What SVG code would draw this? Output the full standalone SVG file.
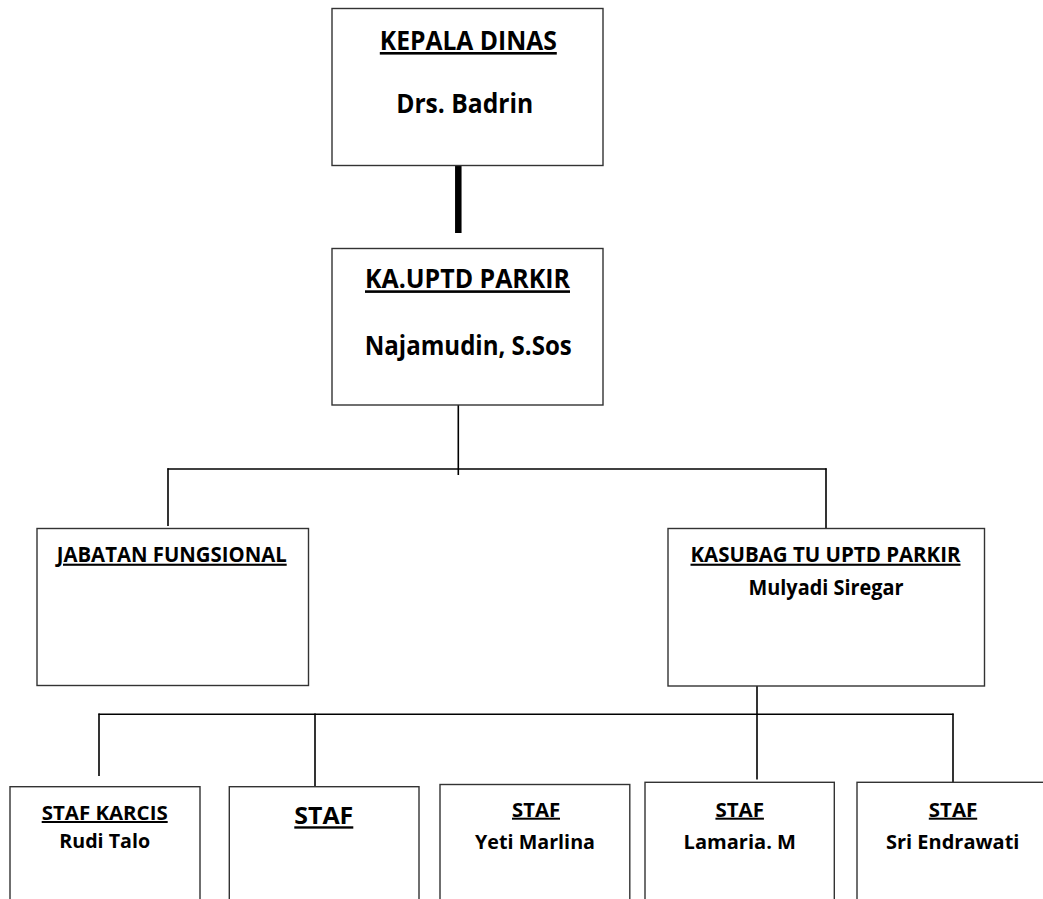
<svg xmlns="http://www.w3.org/2000/svg" width="1043" height="899" viewBox="0 0 1043 899">
<style>
.box{fill:#fff;stroke:#333;stroke-width:1.4}
.t{font-family:"Open Sans","Noto Sans","Liberation Sans",sans-serif;font-weight:700;fill:#000;text-anchor:middle}
.u{text-decoration:underline}
.big{font-size:26px}
.mid{font-size:21px}
.sm{font-size:20px}
.con{stroke:#000;stroke-width:1.6;fill:none}
</style>
<rect width="1043" height="899" fill="#fff"/>
<g id="connectors">
<line class="con" x1="458.3" y1="166" x2="458.3" y2="233" style="stroke-width:6.5"/>
<line class="con" x1="458.3" y1="405" x2="458.3" y2="475"/>
<line class="con" x1="167.5" y1="469" x2="826.5" y2="469"/>
<line class="con" x1="168" y1="468.2" x2="168" y2="526"/>
<line class="con" x1="826" y1="468.2" x2="826" y2="530"/>
<line class="con" x1="757" y1="686" x2="757" y2="779.5"/>
<line class="con" x1="98.5" y1="714.3" x2="953.5" y2="714.3"/>
<line class="con" x1="99" y1="713.5" x2="99" y2="776"/>
<line class="con" x1="315" y1="713.5" x2="315" y2="790"/>
<line class="con" x1="953" y1="713.5" x2="953" y2="786"/>
</g>
<g id="kepala-dinas">
<rect class="box" x="332" y="8.5" width="271" height="157"/>
<text class="t big u" x="468.3" y="50" textLength="177" lengthAdjust="spacingAndGlyphs">KEPALA DINAS</text>
<text class="t big" x="464.7" y="113.3" textLength="137" lengthAdjust="spacingAndGlyphs">Drs. Badrin</text>
</g>
<g id="ka-uptd">
<rect class="box" x="332" y="248.5" width="271" height="156.5"/>
<text class="t big u" x="467.5" y="288.3" textLength="205" lengthAdjust="spacingAndGlyphs">KA.UPTD PARKIR</text>
<text class="t big" x="468.3" y="355" textLength="207" lengthAdjust="spacingAndGlyphs">Najamudin, S.Sos</text>
</g>
<g id="jabatan-fungsional">
<rect class="box" x="37" y="528.5" width="271.5" height="157"/>
<text class="t mid u" x="171.7" y="561.7" textLength="230" lengthAdjust="spacingAndGlyphs">JABATAN FUNGSIONAL</text>
</g>
<g id="kasubag">
<rect class="box" x="668" y="528.5" width="316.5" height="157.5"/>
<text class="t mid u" x="825.5" y="561.7" textLength="270" lengthAdjust="spacingAndGlyphs">KASUBAG TU UPTD PARKIR</text>
<text class="t mid" x="826" y="595" textLength="155" lengthAdjust="spacingAndGlyphs">Mulyadi Siregar</text>
</g>
<g id="staf-karcis">
<rect class="box" x="10" y="786.7" width="190" height="130"/>
<text class="t sm u" x="104.7" y="820" textLength="126" lengthAdjust="spacingAndGlyphs">STAF KARCIS</text>
<text class="t sm" x="104.7" y="848.3" textLength="90.7" lengthAdjust="spacingAndGlyphs">Rudi Talo</text>
</g>
<g id="staf-2">
<rect class="box" x="229.3" y="786.7" width="189.7" height="130"/>
<text class="t u" style="font-size:23.5px" x="323.8" y="824.3" textLength="59" lengthAdjust="spacingAndGlyphs">STAF</text>
</g>
<g id="staf-yeti">
<rect class="box" x="440" y="784.5" width="189.8" height="130"/>
<text class="t sm u" x="536" y="816.7" textLength="48" lengthAdjust="spacingAndGlyphs">STAF</text>
<text class="t sm" x="535" y="849" textLength="120" lengthAdjust="spacingAndGlyphs">Yeti Marlina</text>
</g>
<g id="staf-lamaria">
<rect class="box" x="645" y="782.3" width="189.3" height="130"/>
<text class="t sm u" x="739.7" y="816.7" textLength="48.5" lengthAdjust="spacingAndGlyphs">STAF</text>
<text class="t sm" x="739.8" y="849" textLength="112.5" lengthAdjust="spacingAndGlyphs">Lamaria. M</text>
</g>
<g id="staf-sri">
<rect class="box" x="857" y="782.3" width="192" height="130"/>
<text class="t sm u" x="953" y="816.7" textLength="48.4" lengthAdjust="spacingAndGlyphs">STAF</text>
<text class="t sm" x="952.7" y="849" textLength="133.4" lengthAdjust="spacingAndGlyphs">Sri Endrawati</text>
</g>
</svg>
